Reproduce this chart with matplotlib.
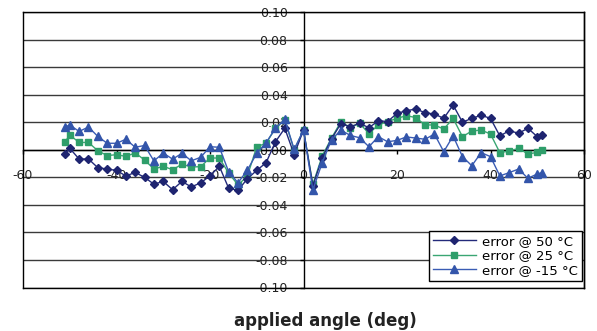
import matplotlib
matplotlib.use("Agg")
import matplotlib.pyplot as plt

angles = [-51, -50, -48, -46, -44, -42, -40, -38, -36, -34, -32, -30, -28, -26, -24, -22,
          -20, -18, -16, -14, -12, -10, -8, -6, -4, -2, 0, 2, 4, 6, 8, 10, 12, 14, 16, 18,
          20, 22, 24, 26, 28, 30, 32, 34, 36, 38, 40, 42, 44, 46, 48, 50, 51]

err_50 = [-0.003, 0.001, -0.0067, -0.0067, -0.013, -0.014, -0.015, -0.019, -0.0165, -0.020,
          -0.025, -0.023, -0.029, -0.023, -0.027, -0.024, -0.019, -0.012, -0.028, -0.0295,
          -0.021, -0.015, -0.0094, 0.0058, 0.0156, -0.0035, 0.0143, -0.026, -0.006, 0.008,
          0.019, 0.0167, 0.0192, 0.016, 0.021, 0.0205, 0.0264, 0.0283, 0.0296, 0.0269,
          0.0259, 0.0228, 0.0325, 0.020, 0.0228, 0.025, 0.0228, 0.010, 0.0138, 0.012,
          0.0156, 0.0095, 0.0107]

err_25 = [0.0058, 0.0107, 0.0053, 0.0053, -0.0007, -0.0042, -0.0036, -0.0048, -0.0023, -0.0074,
          -0.014, -0.012, -0.0145, -0.0105, -0.0125, -0.0123, -0.006, -0.006, -0.017, -0.0256,
          -0.019, 0.0022, 0.0047, 0.0156, 0.0216, -0.0002, 0.0143, -0.0251, -0.0045, 0.0085,
          0.0204, 0.016, 0.0192, 0.0117, 0.018, 0.0204, 0.0228, 0.0247, 0.0234, 0.018,
          0.018, 0.015, 0.0228, 0.0095, 0.0136, 0.0143, 0.0114, -0.0021, -0.0009, 0.001,
          -0.0031, -0.0019, -0.0002]

err_m15 = [0.0165, 0.018, 0.0133, 0.0165, 0.0097, 0.0047, 0.0047, 0.0076, 0.0018, 0.0031,
           -0.0081, -0.0024, -0.0068, -0.0026, -0.008, -0.0055, 0.0022, 0.0018, -0.016, -0.024,
           -0.0147, -0.0026, 0.0051, 0.0156, 0.022, 0.0003, 0.0143, -0.0292, -0.0094, 0.0073,
           0.0143, 0.0104, 0.0087, 0.0022, 0.0095, 0.0058, 0.0068, 0.0093, 0.0085, 0.0076,
           0.0114, -0.0014, 0.010, -0.005, -0.0116, -0.0021, -0.005, -0.019, -0.0166, -0.014,
           -0.0207, -0.0176, -0.0166]

labels = ["error @ 50 °C", "error @ 25 °C", "error @ -15 °C"]
x_ticks = [-60, -40, -20, 0, 20, 40, 60]
y_ticks = [-0.10, -0.08, -0.06, -0.04, -0.02, 0.00, 0.02, 0.04, 0.06, 0.08, 0.10]

plt.rcParams['font.family'] = ['DejaVu Sans']

fig = plt.figure(figsize=(5.97, 3.31), dpi=100)
ax = fig.add_axes([23/597, 1-287.5/331, (584-23)/597, (287.5-12)/331])

for yv in y_ticks:
    ax.axhline(yv, color='#3a3a3a', lw=1.0, zorder=1)

ax.plot(angles, err_50, color='#232a7a', lw=1.0, marker='D', ms=4.5, mec='#1e2470',
        mfc='#1e2470', label=labels[0], zorder=5)
ax.plot(angles, err_25, color='#3aa673', lw=1.0, marker='s', ms=5.0, mec='#2e9e6a',
        mfc='#2e9e6a', label=labels[1], zorder=4)
ax.plot(angles, err_m15, color='#3a5cb4', lw=1.0, marker='^', ms=6.0, mec='#3355aa',
        mfc='#3355aa', label=labels[2], zorder=6)

ax.set_xlim(-60, 60)
ax.set_ylim(-0.10, 0.10)
ax.set_xticks(x_ticks)
ax.set_xticklabels([str(v) for v in x_ticks])
ax.set_yticks(y_ticks)
ax.set_yticklabels([f"{v:.2f}" for v in y_ticks])

ax.spines['left'].set_position(('data', 0))
ax.spines['bottom'].set_position(('data', 0))
for s in ax.spines.values():
    s.set_color('black')
    s.set_linewidth(1.0)
    s.set_zorder(3)
# outer frame
ax.plot([0, 0], [0, 1], transform=ax.transAxes, color='black', lw=1.0, clip_on=False, zorder=3)
ax.plot([1, 1], [0, 1], transform=ax.transAxes, color='black', lw=1.0, clip_on=False, zorder=3)
ax.plot([0, 1], [0, 0], transform=ax.transAxes, color='black', lw=1.0, clip_on=False, zorder=3)

ax.tick_params(axis='x', direction='out', length=3, width=1, pad=11, labelsize=9,
               labelcolor='#222222')
ax.tick_params(axis='y', direction='out', length=3, width=1, pad=8.5, labelsize=9,
               labelcolor='#222222')
for t in ax.get_yticklabels() + ax.get_xticklabels():
    t.set_zorder(7)

fig.text(325/597, 1-321/331, "applied angle (deg)", ha='center', va='center',
         fontsize=12, fontweight='bold', color='#222222')

leg = ax.legend(loc='lower right', bbox_to_anchor=(0.9964, 0.0236), fontsize=9.5,
                frameon=True, fancybox=False, edgecolor='black', framealpha=1,
                borderpad=0.3, labelspacing=0.12, handlelength=3.2, handletextpad=0.5,
                borderaxespad=0)
leg.get_frame().set_linewidth(1.0)
leg.set_zorder(10)

fig.savefig("out.png", dpi=100)
